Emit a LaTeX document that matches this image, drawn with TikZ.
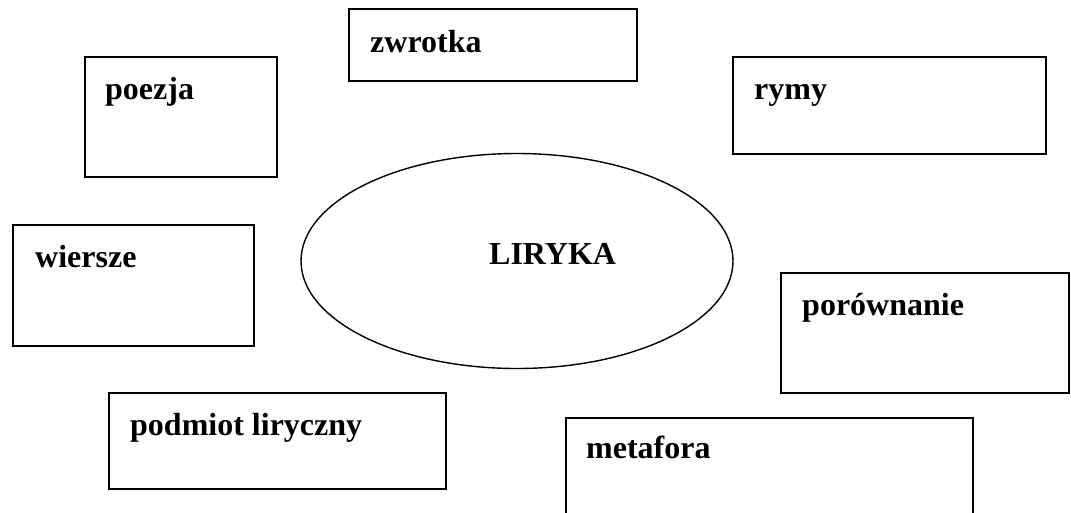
\documentclass[tikz,border=0pt]{standalone}
\usepackage{fontspec}
\setmainfont{Liberation Serif}
\begin{document}
\begin{tikzpicture}[x=1pt,y=-1pt,
  box/.style={draw,line width=1.4pt},
  lbl/.style={anchor=base west,inner sep=0pt,font=\fontsize{32}{38}\selectfont\bfseries}]
\useasboundingbox (0,0) rectangle (1071,512);
\clip (0,0) rectangle (1071,512);
% boxes
\draw[box] (349,9) rectangle (637,81);
\node[lbl] (zwrotka) at (370,52) {zwrotka};
\draw[box] (85,57) rectangle (277,177);
\node[lbl] (poezja) at (105,99) {poezja};
\draw[box] (733,57) rectangle (1046,154);
\node[lbl] (rymy) at (754,99) {rymy};
\draw[box] (13,225) rectangle (254,346);
\node[lbl] (wiersze) at (35,267) {wiersze};
\draw[box] (781,273) rectangle (1069,393);
\node[lbl] (porownanie) at (802,315) {porównanie};
\draw[box] (109,393) rectangle (446,489);
\node[lbl] (podmiot) at (130,435) {podmiot liryczny};
\draw[box] (566,418) rectangle (973,530);
\node[lbl] (metafora) at (586,458) {metafora};
% ellipse
\draw[line width=1.4pt] (517,261) ellipse [x radius=216, y radius=107.5];
\node[lbl] (liryka) at (489,264) {LIRYKA};
\end{tikzpicture}
\end{document}
